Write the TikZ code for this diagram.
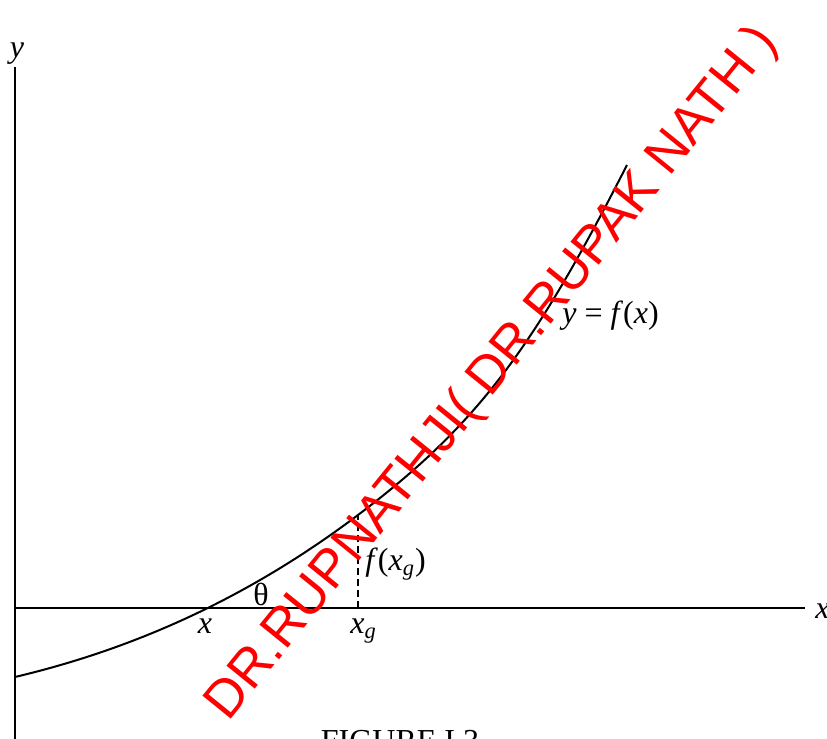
\documentclass[tikz,border=0pt]{standalone}
\usepackage{fontspec}
\setmainfont{Liberation Serif}
\newfontfamily\markfont{Liberation Sans}
\usetikzlibrary{positioning}

\tikzset{
  axisline/.style={line width=1pt},
  lbl/.style={inner sep=0pt,font=\fontsize{16}{19}\selectfont},
  wmark/.style={inner sep=0pt,text=red,font=\markfont\fontsize{26.5}{30}\selectfont}
}

\begin{document}
\begin{tikzpicture}[x=0.5pt,y=-0.5pt]
  % page frame 827 x 739 px, 1 px = 0.5pt, y counted downwards
  \useasboundingbox (0,0) rectangle (827,739);
  \clip (0,0) rectangle (827,739);

  % Axes
  \coordinate (ytop) at (15,67);
  \coordinate (ybot) at (15,739);
  \coordinate (xleft) at (15,608);
  \coordinate (xright) at (805,608);
  \draw[axisline] (ybot) -- (ytop);
  \draw[axisline] (xleft) -- (xright);
  \node[lbl,anchor=base] (ylab) at (17,57) {\textit{y}};
  \node[lbl,anchor=base west] (xlab) at (815,618) {\textit{x}};

  % Curve y = f(x), two cubic pieces with matching tangent at the guess point
  \coordinate (cstart) at (15,677);
  \coordinate (fxg) at (358,515);
  \coordinate (cend) at (627,165);
  \draw[line width=1pt] (cstart) .. controls (129,650) and (244,601) .. (fxg)
    .. controls (480,423) and (535,345) .. (cend);

  % Guess point and its ordinate
  \coordinate (xg) at (358,608);
  \draw[line width=0.8pt,dash pattern=on 3.5pt off 2pt] (xg) -- (fxg);

  % Labels
  \node[lbl,anchor=base west] (curvelab) at (562,323)
    {\textit{y} = \textit{f}(\textit{x})};
  \node[lbl,anchor=base west] (fxglab) at (365,570)
    {\textit{f}(\textit{x}\textsubscript{\textit{g}})};
  \node[lbl] (theta) at (261,594) {θ};
  \node[lbl,anchor=base] (rootlab) at (205,633) {\textit{x}};
  \node[lbl,anchor=base west] (xglab) at (350,633)
    {\textit{x}\textsubscript{\textit{g}}};
  \node[lbl,anchor=base] (caption) at (400,751) {FIGURE I.3};

  % Watermark
  \node[wmark,anchor=base west,rotate=51] (stamp) at (228,723)
    {DR.RUPNATHJI( DR.RUPAK NATH )};
\end{tikzpicture}
\end{document}
